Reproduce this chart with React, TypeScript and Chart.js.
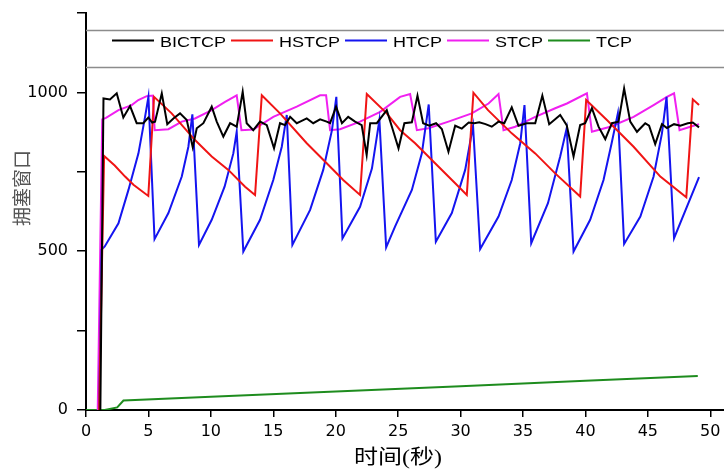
import React, { useEffect, useRef } from 'react';
import { Chart, registerables } from 'chart.js';

Chart.register(...registerables);

const seriesNames = ['BICTCP', 'HSTCP', 'HTCP', 'STCP', 'TCP'];
const seriesColors = ['#000000', '#f01414', '#1414f0', '#f020f0', '#1e8c1e'];

const xTitle = '时间(秒)';
const yTitle = '拥塞窗口';
const yTickLabels = [0, 500, 1000];

const bictcpTime = [1.15, 1.4, 1.92, 2.46, 2.99, 3.53, 4.06, 4.59, 4.99, 5.3,
  5.53, 6.07, 6.51, 7.0, 7.53, 8.07, 8.55, 8.87, 9.4, 10.07,
  10.47, 11.0, 11.54, 12.07, 12.55, 12.87, 13.4, 13.94, 14.48, 15.06,
  15.54, 15.94, 16.35, 16.88, 17.15, 17.68, 18.2, 18.75, 19.28, 19.55,
  20.03, 20.5, 21.0, 21.55, 22.08, 22.48, 22.76, 23.29, 24.09, 24.5,
  25.03, 25.5, 26.1, 26.55, 27.0, 27.5, 28.04, 28.5, 29.03, 29.57,
  30.1, 30.65, 31.1, 31.5, 32.0, 32.5, 33.04, 33.5, 34.1, 34.64,
  35.3, 35.98, 36.55, 37.1, 37.98, 38.5, 39.05, 39.58, 39.98, 40.52,
  41.05, 41.59, 42.12, 42.65, 43.1, 43.59, 44.13, 44.79, 45.1, 45.59,
  46.13, 46.53, 47.1, 47.6, 48.2, 48.6, 49.1];
const bictcpCwnd = [0, 981, 978, 997, 921, 957, 903, 903, 921, 905,
  908, 997, 900, 918, 934, 913, 827, 887, 903, 955,
  908, 861, 903, 892, 1002, 903, 881, 908, 897, 824,
  903, 897, 923, 903, 908, 918, 903, 915, 908, 903,
  955, 903, 923, 908, 897, 803, 903, 903, 944, 892,
  824, 903, 906, 990, 903, 895, 903, 885, 813, 895,
  886, 905, 903, 906, 900, 892, 908, 903, 953, 895,
  903, 903, 990, 900, 929, 897, 798, 897, 903, 950,
  892, 853, 903, 908, 1012, 908, 876, 903, 895, 837,
  900, 888, 900, 895, 903, 905, 890];

const hstcpTime = [1.05, 1.45, 2.3, 3.13, 3.8, 4.99, 5.45, 6.86, 8.73, 10.07,
  11.4, 12.74, 13.54, 14.08, 15.54, 17.68, 19.28, 20.6, 21.95, 22.49,
  24.09, 25.16, 26.36, 27.96, 29.57, 30.5, 31.03, 32.2, 34.1, 35.98,
  37.58, 39.58, 40.06, 41.72, 43.86, 46.0, 48.08, 48.6, 49.1];
const hstcpCwnd = [0, 800, 770, 735, 709, 674, 986, 934, 850, 798,
  756, 703, 677, 991, 934, 840, 777, 724, 677, 995,
  934, 881, 840, 777, 714, 677, 999, 944, 871, 808,
  745, 672, 976, 913, 829, 735, 670, 978, 960];

const htcpTime = [1.05, 1.25, 1.5, 2.6, 3.4, 4.2, 4.73, 5.0, 5.49, 6.6,
  7.67, 8.2, 8.52, 9.05, 10.07, 11.1, 11.8, 12.07, 12.6, 13.94,
  15.0, 15.68, 16.08, 16.53, 17.95, 19.0, 19.7, 20.05, 20.54, 21.95,
  22.9, 23.5, 24.04, 24.76, 26.1, 26.9, 27.45, 28.02, 29.3, 30.37,
  31.0, 31.57, 33.04, 34.1, 34.78, 35.12, 35.66, 37.0, 37.98, 38.5,
  39.05, 40.38, 41.45, 42.1, 42.6, 43.1, 44.4, 45.46, 46.13, 46.5,
  47.1, 49.1];
const htcpCwnd = [0, 505, 515, 588, 693, 808, 923, 986, 538, 620,
  735, 829, 931, 520, 599, 703, 808, 876, 499, 599,
  724, 829, 929, 520, 630, 756, 881, 986, 540, 640,
  760, 913, 512, 578, 693, 808, 962, 530, 620, 756,
  895, 507, 609, 724, 840, 960, 525, 651, 798, 887,
  499, 599, 724, 840, 934, 523, 609, 735, 871, 986,
  541, 733];

const stcpTime = [0.94, 1.3, 1.6, 2.6, 3.66, 4.19, 4.86, 5.35, 5.5, 6.6,
  7.67, 8.73, 10.07, 11.14, 12.07, 12.45, 13.4, 15.0, 16.88, 18.75,
  19.23, 19.55, 20.35, 21.95, 23.56, 25.16, 25.96, 26.5, 27.43, 29.03,
  30.9, 32.24, 33.04, 33.44, 34.38, 35.98, 37.58, 38.52, 40.12, 40.52,
  41.99, 43.86, 45.46, 46.53, 47.1, 47.54, 48.4, 49.1];
const stcpCwnd = [0, 915, 920, 944, 960, 976, 988, 990, 881, 884,
  908, 918, 944, 970, 991, 881, 883, 923, 955, 991,
  991, 881, 884, 908, 939, 986, 995, 881, 887, 908,
  934, 965, 995, 881, 892, 923, 950, 965, 997, 876,
  892, 923, 960, 986, 997, 881, 892, 900];

const tcpTime = [0, 1.5, 2.5, 3.0, 10, 20, 30, 40, 49];
const tcpCwnd = [0, 0, 8, 30, 42, 58, 75, 92, 107];

const seriesTimes = [bictcpTime, hstcpTime, htcpTime, stcpTime, tcpTime];
const seriesValues = [bictcpCwnd, hstcpCwnd, htcpCwnd, stcpCwnd, tcpCwnd];

const overlayPlugin = {
  id: 'overlay',
  afterDraw(chart: any) {
    const { ctx, chartArea } = chart;
    const stretch = 1.2;
    ctx.save();
    // legend frame lines
    ctx.strokeStyle = '#8c8c8c';
    ctx.lineWidth = 1.5;
    [chartArea.top + 17.5, chartArea.top + 54.5].forEach((y: number) => {
      ctx.beginPath();
      ctx.moveTo(chartArea.left, y);
      ctx.lineTo(chartArea.right, y);
      ctx.stroke();
    });
    // legend items
    ctx.font = '15px "Liberation Sans", Arial, sans-serif';
    ctx.textBaseline = 'alphabetic';
    ctx.textAlign = 'left';
    let x = chartArea.left + 26;
    const yc = chartArea.top + 27.5;
    seriesNames.forEach((name, i) => {
      ctx.strokeStyle = seriesColors[i];
      ctx.lineWidth = 2;
      ctx.beginPath();
      ctx.moveTo(x, yc);
      ctx.lineTo(x + 42, yc);
      ctx.stroke();
      x += 48;
      ctx.save();
      ctx.translate(x, yc + 6);
      ctx.scale(stretch, 1);
      ctx.fillStyle = '#000';
      ctx.fillText(name, 0, 0);
      ctx.restore();
      x += ctx.measureText(name).width * stretch + 5;
    });
    // x title
    ctx.save();
    ctx.font = '20px "Liberation Serif", "Noto Sans CJK SC", serif';
    ctx.textAlign = 'center';
    ctx.textBaseline = 'middle';
    ctx.translate(398, 459);
    ctx.scale(stretch, 1);
    ctx.fillStyle = '#000';
    ctx.fillText(xTitle, 0, 0);
    ctx.restore();
    // y title
    ctx.save();
    ctx.font = '19px "Noto Sans CJK SC", sans-serif';
    ctx.textAlign = 'center';
    ctx.textBaseline = 'middle';
    ctx.translate(22, 188);
    ctx.rotate(-Math.PI / 2);
    ctx.fillStyle = '#555';
    ctx.fillText(yTitle, 0, 0);
    ctx.restore();
    ctx.restore();
  },
};

export default function App() {
  const canvasRef = useRef<HTMLCanvasElement>(null);

  useEffect(() => {
    const canvas = canvasRef.current;
    if (!canvas) return;
    const datasets = seriesNames.map((name, i) => ({
      label: name,
      data: seriesTimes[i].map((t, j) => ({ x: t, y: seriesValues[i][j] })),
      borderColor: seriesColors[i],
      backgroundColor: seriesColors[i],
      borderWidth: 2,
      pointRadius: 0,
      tension: 0,
      fill: false,
    }));
    const chart = new Chart(canvas, {
      type: 'line',
      data: { datasets },
      options: {
        animation: false,
        responsive: false,
        devicePixelRatio: 1,
        layout: { padding: { top: 13, left: 0, right: 0, bottom: 0 } },
        plugins: {
          legend: { display: false },
          tooltip: { enabled: false },
        },
        scales: {
          x: {
            type: 'linear',
            min: 0,
            max: 51.1,
            afterFit: (s: any) => { s.height = 63; s.paddingLeft = 0; s.paddingRight = 0; },
            border: { display: true, color: '#000', width: 2 },
            grid: { display: true, drawOnChartArea: false, drawTicks: true, tickLength: 7, color: '#000', lineWidth: 1.5 },
            ticks: {
              stepSize: 5,
              includeBounds: false,
              padding: 5,
              maxRotation: 0,
              color: '#000',
              font: { family: '"DejaVu Sans", sans-serif', size: 16 },
            },
          },
          y: {
            type: 'linear',
            min: 0,
            max: 1250,
            afterFit: (s: any) => { s.width = 86; s.paddingTop = 0; s.paddingBottom = 0; },
            border: { display: true, color: '#000', width: 2 },
            grid: { display: true, drawOnChartArea: false, drawTicks: true, tickLength: 9, color: '#000', lineWidth: 1.5 },
            ticks: {
              stepSize: 250,
              padding: 9,
              color: '#000',
              font: { family: '"DejaVu Sans", sans-serif', size: 16 },
              callback: (v: any) => (yTickLabels.includes(Number(v)) ? String(v) : ''),
            },
          },
        },
      },
      plugins: [overlayPlugin],
    });
    return () => chart.destroy();
  }, []);

  return (
    <div style={{ position: 'fixed', left: 0, top: 0, width: 724, height: 473, background: '#fff' }}>
      <canvas ref={canvasRef} width={724} height={473} style={{ display: 'block', width: 724, height: 473 }} />
    </div>
  );
}
